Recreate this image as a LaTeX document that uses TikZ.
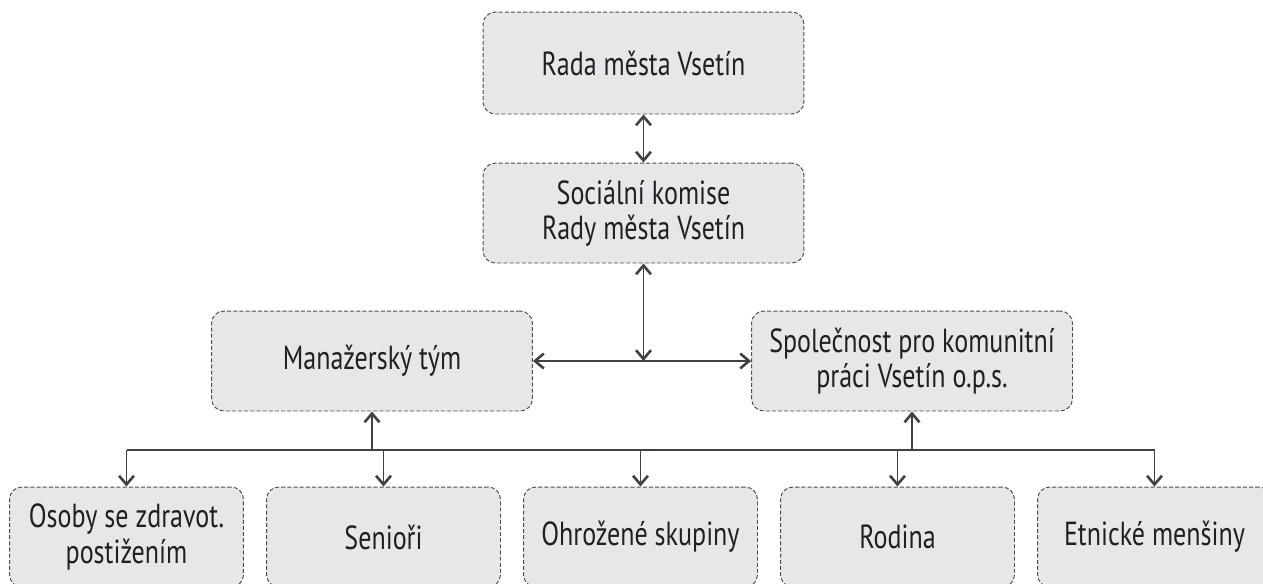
\documentclass[tikz,border=0pt]{standalone}
\usepackage{fontspec}
\setmainfont[FakeStretch=0.78]{PT Sans}
\usetikzlibrary{arrows.meta}
\definecolor{boxfill}{HTML}{E6E7E8}
\definecolor{boxline}{HTML}{4D4D4F}
\definecolor{ink}{HTML}{231F20}

\begin{document}
\begin{tikzpicture}[x=0.02cm, y=-0.02cm,
  >={Straight Barb[width=8.5pt,length=5pt,line width=1.5pt]},
  box/.style={draw=boxline, fill=boxfill, line width=0.55pt,
    dash pattern=on 2.3pt off 1.2pt, rounded corners=7pt,
    minimum width=6.42cm, minimum height=2cm, inner sep=0pt,
    align=center, text=ink, font=\fontsize{19}{20}\selectfont},
  small/.style={box, minimum width=4.68cm},
  link/.style={draw=ink!85, line width=0.65pt}]
\useasboundingbox (0,0) rectangle (1263,583);
\clip (0,0) rectangle (1263,583);

\node [box, minimum height=2.04cm] (rada) at (643.5,63) {Rada města Vsetín};
\node [box] (komise) at (643.5,213) {Sociální komise\\Rady města Vsetín};
\node [box] (manazer) at (372,361) {Manažerský tým};
\node [box] (spolecnost) at (912,361) {Společnost pro komunitní\\práci Vsetín o.p.s.};

\node [small] (osoby) at (126.5,537) {Osoby se zdravot.\\postižením};
\node [small] (seniori) at (383.5,537) {Senioři};
\node [small] (ohrozene) at (640.5,537) {Ohrožené skupiny};
\node [small] (rodina) at (897.5,537) {Rodina};
\node [small] (mensiny) at (1154.5,537) {Etnické menšiny};

\draw [link, <->] (rada) -- (komise);
\draw [link, <->] (komise) -- (komise |- manazer);
\draw [link, <->] (manazer) -- (spolecnost);

% bus to the target groups
\coordinate (bus) at (0,450);
\draw [link] (osoby.north |- bus) -- (mensiny.north |- bus);
\draw [link, ->] (manazer.south |- bus) -- (manazer);
\draw [link, ->] (spolecnost.south |- bus) -- (spolecnost);
\foreach \g in {osoby, seniori, ohrozene, rodina, mensiny}
  \draw [link, ->] (\g.north |- bus) -- (\g);
\end{tikzpicture}
\end{document}
